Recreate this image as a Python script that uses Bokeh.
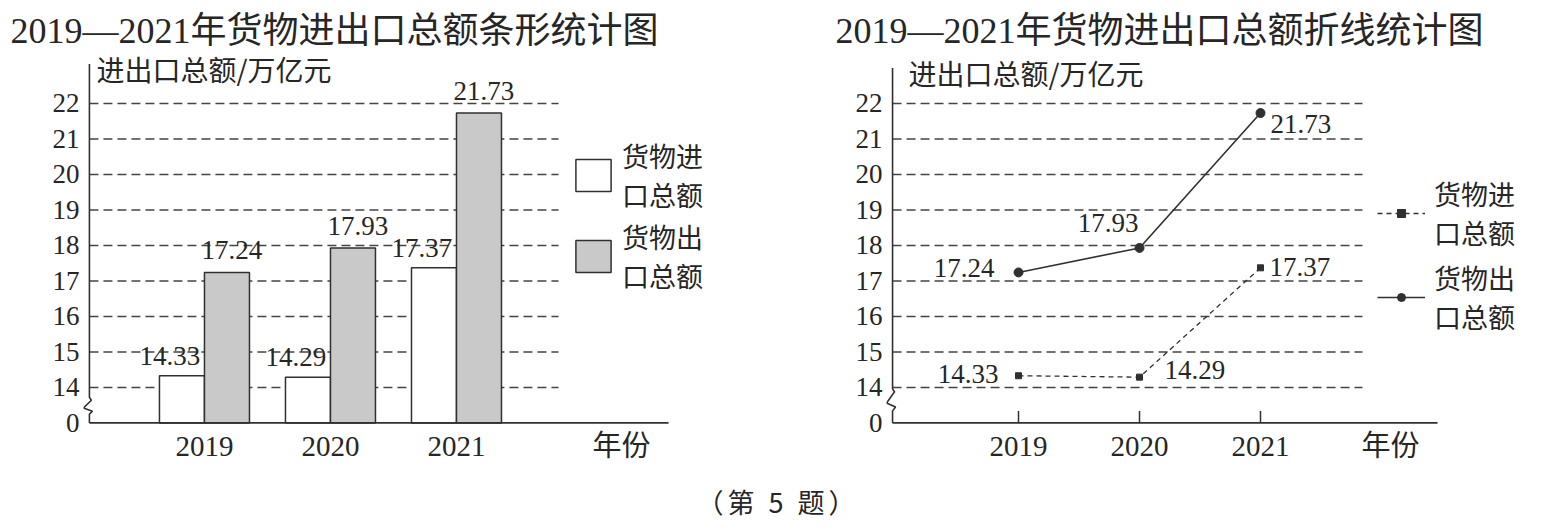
from bokeh.plotting import figure
from bokeh.models import (ColumnDataSource, FixedTicker, Label, Legend, LegendItem,
                          Range1d, Div, Title)
from bokeh.layouts import row, column
from bokeh.transform import dodge
from bokeh.core.properties import value, field
from bokeh.embed import file_html
from bokeh.resources import INLINE

# ---------------- data ----------------
years = [2019, 2020, 2021]
imports = [14.33, 14.29, 17.37]          # 货物进口总额 (万亿元)
exports = [17.24, 17.93, 21.73]          # 货物出口总额 (万亿元)
y_ticks = [0, 14, 15, 16, 17, 18, 19, 20, 21, 22]
bar_title = "2019—2021年货物进出口总额条形统计图"
line_title = "2019—2021年货物进出口总额折线统计图"
y_axis_title = "进出口总额/万亿元"
x_axis_title = "年份"
import_name = "货物进\n口总额"
export_name = "货物出\n口总额"
caption = "（第 5 题）"

# ---------------- broken axis: 0, then 14..22 ----------------
BREAK_SHIFT = 13


def disp(v):
    return 0 if v == 0 else v - BREAK_SHIFT


# ---------------- styles / layout ----------------
TEXT = "#262626"
LINE = "#303030"
GRID = "#444444"
BAR_GRAY = "#c9c9c9"
NUM_FONT = "Liberation Serif"
CJK_FONT = "Noto Sans CJK SC"
MIX_FONT = "Liberation Serif, Noto Sans CJK SC"
FIG_H = 478
BORDER_TOP = 55
BORDER_BOTTOM = 52
PX_Y = 35.5
Y_START = -0.1
Y_END = Y_START + (FIG_H - BORDER_TOP - BORDER_BOTTOM) / PX_Y


def base_figure(width, bl, br, x_start, x_end, xtitle_x, title, title_offset):
    p = figure(width=width, height=FIG_H, title=None,
               x_range=Range1d(x_start, x_end), y_range=Range1d(Y_START, Y_END),
               output_backend="svg", toolbar_location=None,
               min_border_left=bl, min_border_right=br,
               min_border_top=BORDER_TOP, min_border_bottom=BORDER_BOTTOM,
               outline_line_color=None, background_fill_color="white",
               border_fill_color="white")
    p.xgrid.visible = False
    p.ygrid.visible = False
    ya = p.yaxis[0]
    ya.ticker = FixedTicker(ticks=[disp(t) for t in y_ticks])
    ya.major_label_overrides = {disp(t): str(t) for t in y_ticks}
    xa = p.xaxis[0]
    xa.ticker = FixedTicker(ticks=years + [xtitle_x])
    ov = {y: str(y) for y in years}
    ov[xtitle_x] = x_axis_title
    xa.major_label_overrides = ov
    for a in (xa, ya):
        a.axis_line_color = None
        a.major_tick_line_color = None
        a.minor_tick_line_color = None
        a.major_tick_in = 0
        a.major_tick_out = 0
        a.minor_tick_in = 0
        a.minor_tick_out = 0
        a.major_label_text_color = TEXT
    ya.major_label_text_font_size = "27px"
    xa.major_label_text_font_size = "29px"
    ya.major_label_text_font = NUM_FONT
    xa.major_label_text_font = MIX_FONT
    ya.major_label_standoff = 4
    xa.major_label_standoff = 3
    p.add_layout(Title(text=title, align="left", offset=title_offset, standoff=8,
                       vertical_align="middle", text_font=MIX_FONT,
                       text_font_size="36px", text_font_style="normal",
                       text_color=TEXT), "above")
    return p


src = ColumnDataSource(dict(
    year=years,
    imp=[disp(v) for v in imports],
    exp=[disp(v) for v in exports],
    imp_lbl=[f"{v:.2f}" for v in imports],
    exp_lbl=[f"{v:.2f}" for v in exports],
))
gy = [disp(t) for t in y_ticks if t != 0]

# ================= left: bar chart =================
PX1 = 126.0
p1 = base_figure(770, 83, 30, 2018.040, 2023.254, 2022.31, bar_title, -73)
AX1 = 2018.087
u1 = 1.0 / PX1
BAR_W = 45 * u1
p1.segment(x0=AX1, x1=2021.81, y0=gy, y1=gy, line_dash="9 5", line_width=1.4, color=GRID)
r_imp = p1.vbar(x=dodge("year", -BAR_W / 2, range=p1.x_range), top="imp", bottom=0,
                width=BAR_W, source=src, fill_color="white", line_color=LINE, line_width=1.5)
r_exp = p1.vbar(x=dodge("year", BAR_W / 2, range=p1.x_range), top="exp", bottom=0,
                width=BAR_W, source=src, fill_color=BAR_GRAY, line_color=LINE, line_width=1.5)
bx = [AX1, AX1, AX1 + 2 * u1, AX1 - 6 * u1, AX1 + 3 * u1, AX1, AX1]
by = [10.11, 0.72, 0.64, 0.42, 0.33, 0.25, 0]
p1.line(bx, by, line_width=1.6, color=LINE)
p1.segment(x0=AX1, x1=2022.683, y0=0, y1=0, line_width=1.7, color=LINE)
p1.text(x=dodge("year", -BAR_W / 2, range=p1.x_range), y="imp", text="imp_lbl", source=src,
        x_offset=-12, y_offset=-11, text_align="center", text_baseline="bottom",
        text_font=value(NUM_FONT), text_font_size="27px", text_color=TEXT)
p1.text(x=dodge("year", BAR_W / 2, range=p1.x_range), y="exp", text="exp_lbl", source=src,
        x_offset=5, y_offset=-13, text_align="center", text_baseline="bottom",
        text_font=value(NUM_FONT), text_font_size="27px", text_color=TEXT)
p1.add_layout(Label(x=AX1 + 7 * u1, y=9.97, text=y_axis_title, text_font=CJK_FONT,
                    text_font_size="28px", text_baseline="middle", text_color=TEXT))
leg1 = Legend(items=[LegendItem(label=value(import_name), renderers=[r_imp]),
                     LegendItem(label=value(export_name), renderers=[r_exp])],
              location=(488, 131), glyph_width=44, glyph_height=40, label_standoff=7,
              spacing=3, padding=0, margin=0, border_line_color=None,
              background_fill_alpha=0, label_text_font=CJK_FONT,
              label_text_font_size="27px", label_text_color=TEXT,
              label_text_line_height=1.0)
p1.add_layout(leg1)

# ================= right: line chart =================
PX2 = 121.0
p2 = base_figure(776, 116, 6, 2017.909, 2023.314, 2022.074, line_title, -51)
AX2 = 2017.959
u2 = 1.0 / PX2
p2.segment(x0=AX2, x1=2021.843, y0=gy, y1=gy, line_dash="9 5", line_width=1.4, color=GRID)
bx2 = [AX2, AX2, AX2 + 2 * u2, AX2 - 6 * u2, AX2 + 3 * u2, AX2, AX2]
by2 = [10.0, 0.96, 0.88, 0.56, 0.45, 0.34, 0]
p2.line(bx2, by2, line_width=1.6, color=LINE)
p2.segment(x0=AX2, x1=2022.463, y0=0, y1=0, line_width=1.7, color=LINE)
p2.segment(x0=years, x1=years, y0=[0] * len(years), y1=[12 / PX_Y] * len(years),
           line_width=1.5, color=LINE)
r_imp_l = p2.line(x="year", y="imp", source=src, line_dash="5 4", line_width=1.3, color=LINE)
r_imp_p = p2.scatter(x="year", y="imp", source=src, marker="square", size=6, color=LINE)
r_exp_l = p2.line(x="year", y="exp", source=src, line_width=1.6, color=LINE)
r_exp_p = p2.scatter(x="year", y="exp", source=src, marker="circle", size=9, color=LINE)

# label placement (screen px offsets, alignment) per point
exp_dx, exp_dy, exp_al = [-24, -1, 10], [-4, -25, 11], ["right", "right", "left"]
imp_dx, imp_dy, imp_al = [-20, 25, 9], [-2, -7, -1], ["right", "left", "left"]
lsrc = ColumnDataSource(dict(
    x=years + years,
    y=[disp(v) for v in exports] + [disp(v) for v in imports],
    t=[f"{v:.2f}" for v in exports] + [f"{v:.2f}" for v in imports],
    dx=exp_dx + imp_dx, dy=exp_dy + imp_dy, al=exp_al + imp_al,
))
p2.text(x="x", y="y", text="t", source=lsrc, x_offset="dx", y_offset="dy",
        text_align=field("al"), text_baseline="middle",
        text_font=value(NUM_FONT), text_font_size="27px", text_color=TEXT)
p2.add_layout(Label(x=AX2 + 16 * u2, y=9.86, text=y_axis_title, text_font=CJK_FONT,
                    text_font_size="28px", text_baseline="middle", text_color=TEXT))
leg2 = Legend(items=[LegendItem(label=value(import_name), renderers=[r_imp_l, r_imp_p]),
                     LegendItem(label=value(export_name), renderers=[r_exp_l, r_exp_p])],
              location=(491, 90), glyph_width=48, glyph_height=20, label_standoff=9,
              spacing=6, padding=0, margin=0, border_line_color=None,
              background_fill_alpha=0, label_text_font=CJK_FONT,
              label_text_font_size="27px", label_text_color=TEXT,
              label_text_line_height=1.5)
p2.add_layout(leg2)

cap = Div(text=f'<div style="width:1546px;text-align:center;font-family:\'Noto Sans CJK SC\';'
               f'font-size:27px;letter-spacing:4px;color:{TEXT};line-height:30px;'
               f'padding-top:4px;">{caption}</div>',
          width=1546, height=44)

layout = column(row(p1, p2), cap)
open("out.html", "w").write(file_html(layout, INLINE))
